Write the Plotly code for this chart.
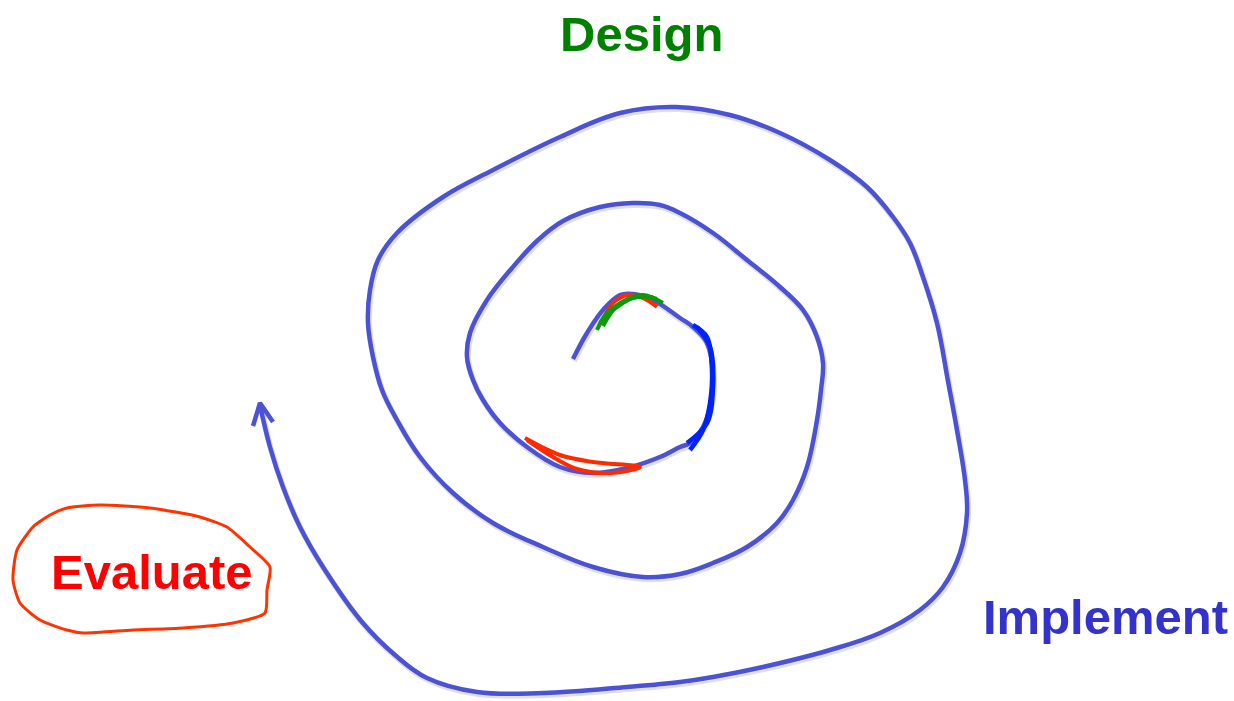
import plotly.graph_objects as go

# Spiral path (canvas pixel coordinates, y downward)
spiral_x = [573, 587, 603, 620, 633, 653, 680, 693, 707, 713, 710, 703, 690, 680, 660, 627, 593, 560, 527, 500, 483, 473,
            467, 470, 487, 512, 538, 563, 600, 633, 660, 680, 713, 747, 780, 803, 817, 823, 821, 817, 807, 793, 777, 747, 713, 680,
            643, 593, 543, 493, 453, 420, 397, 382, 373, 368, 370, 378, 397, 443, 493, 560, 620, 676, 730, 780, 830, 867, 893,
            910, 923, 937, 948, 957, 965, 967, 960, 943, 920, 880, 830, 763, 713, 680, 627, 543, 477, 427, 395, 362,
            323, 300, 283, 270, 260]
spiral_y = [359, 333, 310, 295, 294, 300, 318, 327, 343, 377, 407, 427, 443, 447, 457, 468, 473, 467, 447, 423, 400, 380,
            357, 333, 300, 268, 240, 221, 207, 203, 205, 213, 233, 260, 287, 310, 337, 363, 390, 420, 467, 500, 523, 547, 563, 574,
            577, 567, 547, 523, 493, 457, 420, 390, 357, 323, 290, 260, 233, 197, 170, 137, 113, 107, 115, 133, 160, 187, 217,
            243, 277, 323, 381, 430, 480, 513, 553, 587, 610, 633, 650, 667, 677, 682, 687, 693, 692, 678, 655, 622,
            567, 527, 487, 447, 405]
arrow_x = [253, 260, 273]
arrow_y = [426, 403, 422]

# Scribbles
green_strokes = [([597, 607, 627, 643, 663], [330, 313, 300, 295, 303]),
                 ([600, 613, 633, 653], [323, 310, 298, 297]),
                 ([603, 617, 637, 657], [326, 306, 296, 299])]
red_top_strokes = [([603, 613, 627, 643, 657], [320, 303, 295, 298, 307])]
blue_strokes = [([693, 707, 712, 710, 703, 690], [325, 337, 370, 403, 430, 450]),
                ([697, 710, 713, 707, 687], [327, 347, 387, 423, 443])]
red_bottom_strokes = [([525, 560, 593, 640, 610, 577, 553, 527], [438, 455, 462, 467, 473, 469, 457, 440])]

eval_x = [67, 100, 150, 200, 227, 250, 270, 267, 265, 233, 183, 133, 83, 67, 40, 20, 13, 17, 33, 50, 67]
eval_y = [508, 505, 508, 517, 527, 547, 567, 590, 613, 623, 628, 630, 633, 630, 620, 603, 580, 550, 527, 515, 508]

labels = ["Design", "Implement", "Evaluate"]
label_x = [641, 1105, 152]
label_y = [34, 617, 572]
label_colors = ["#008000", "#3333CC", "#FF0000"]

SPIRAL = "#4B52D6"
fig = go.Figure()

# soft shadow
fig.add_trace(go.Scatter(x=[v + 1 for v in spiral_x], y=[v + 2 for v in spiral_y], mode="lines",
                         line=dict(color="rgba(0,0,0,0.12)", width=6, shape="spline", smoothing=1.1),
                         hoverinfo="skip"))
fig.add_trace(go.Scatter(x=spiral_x, y=spiral_y, mode="lines",
                         line=dict(color=SPIRAL, width=4.5, shape="spline", smoothing=1.1), hoverinfo="skip"))
fig.add_trace(go.Scatter(x=arrow_x, y=arrow_y, mode="lines",
                         line=dict(color=SPIRAL, width=4.5), hoverinfo="skip"))

for xs, ys in red_top_strokes:
    fig.add_trace(go.Scatter(x=xs, y=ys, mode="lines", line=dict(color="#FF2A00", width=4, shape="spline"),
                             hoverinfo="skip"))
for xs, ys in green_strokes:
    fig.add_trace(go.Scatter(x=xs, y=ys, mode="lines", line=dict(color="#0A9A0A", width=4, shape="spline"),
                             hoverinfo="skip"))
for xs, ys in blue_strokes:
    fig.add_trace(go.Scatter(x=xs, y=ys, mode="lines", line=dict(color="#0022FF", width=4.5, shape="spline"),
                             hoverinfo="skip"))
for xs, ys in red_bottom_strokes:
    fig.add_trace(go.Scatter(x=xs, y=ys, mode="lines", line=dict(color="#FF2A00", width=4, shape="spline"),
                             hoverinfo="skip"))

fig.add_trace(go.Scatter(x=eval_x, y=eval_y, mode="lines",
                         line=dict(color="#FF3300", width=3, shape="spline", smoothing=0.6), hoverinfo="skip"))

for t, x, y, c in zip(labels, label_x, label_y, label_colors):
    fig.add_annotation(x=x, y=y, text="<b>%s</b>" % t, showarrow=False, xanchor="center", yanchor="middle",
                       font=dict(family="Liberation Sans, Arial, sans-serif", size=49, color=c))

fig.update_layout(width=1234, height=701, autosize=False, showlegend=False,
                  margin=dict(l=0, r=0, t=0, b=0),
                  paper_bgcolor="white", plot_bgcolor="white",
                  xaxis=dict(range=[0, 1234], visible=False, fixedrange=True),
                  yaxis=dict(range=[701, 0], visible=False, fixedrange=True))

fig.write_html("out.html", config={"displayModeBar": False},
               post_script="document.body.style.margin='0';document.body.style.overflow='hidden';")
